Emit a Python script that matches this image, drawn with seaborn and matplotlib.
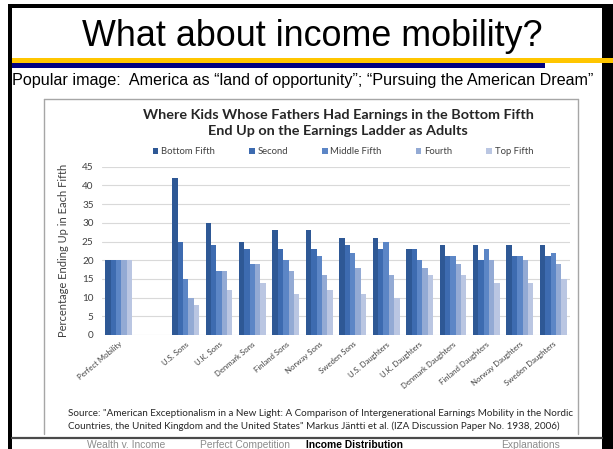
import numpy as np
import pandas as pd
import matplotlib
matplotlib.use("Agg")
import matplotlib.pyplot as plt
from matplotlib.patches import Rectangle
from matplotlib.lines import Line2D
import seaborn as sns

# ---- data -------------------------------------------------------------
groups = ["Perfect Mobility", " ", "U.S. Sons", "U.K. Sons", "Denmark Sons",
          "Finland Sons", "Norway Sons", "Sweden Sons", "U.S. Daughters",
          "U.K. Daughters", "Denmark Daughters", "Finland Daughters",
          "Norway Daughters", "Sweden Daughters"]
fifths = ["Bottom Fifth", "Second", "Middle Fifth", "Fourth", "Top Fifth"]

bottom_fifth = [20, np.nan, 42, 30, 25, 28, 28, 26, 26, 23, 24, 24, 24, 24]
second_fifth = [20, np.nan, 25, 24, 23, 23, 23, 24, 23, 23, 21, 20, 21, 21]
middle_fifth = [20, np.nan, 15, 17, 19, 20, 21, 22, 25, 20, 21, 23, 21, 22]
fourth_fifth = [20, np.nan, 10, 17, 19, 17, 16, 18, 16, 18, 19, 20, 20, 19]
top_fifth    = [20, np.nan, 8, 12, 14, 11, 12, 11, 10, 16, 16, 14, 14, 15]

y_ticks = [0, 5, 10, 15, 20, 25, 30, 35, 40, 45]

palette = ["#2E5895", "#3D6BB0", "#5C86C6", "#93AAD4", "#BAC6E2"]

series = [bottom_fifth, second_fifth, middle_fifth, fourth_fifth, top_fifth]
df = pd.DataFrame(
    [(g, f, v) for f, vals in zip(fifths, series) for g, v in zip(groups, vals)],
    columns=["group", "fifth", "pct"],
)

# ---- figure -----------------------------------------------------------
W, H = 613, 449
sns.set_theme(style="white")
plt.rcParams["font.family"] = ["Lato", "DejaVu Sans"]
fig = plt.figure(figsize=(W / 100, H / 100), dpi=100)
fig.patch.set_facecolor("white")


def fx(x):
    return x / W


def fy(y):
    return 1 - y / H


def rect(x0, y0, x1, y1, color):
    fig.add_artist(Rectangle((fx(x0), fy(y1)), fx(x1) - fx(x0), fy(y0) - fy(y1),
                             transform=fig.transFigure, color=color, lw=0, zorder=5))


def hline(x0, x1, y, color, lw):
    fig.add_artist(Line2D([fx(x0), fx(x1)], [fy(y), fy(y)], transform=fig.transFigure,
                          color=color, lw=lw, zorder=5))


def vline(x, y0, y1, color, lw):
    fig.add_artist(Line2D([fx(x), fx(x)], [fy(y0), fy(y1)], transform=fig.transFigure,
                          color=color, lw=lw, zorder=5))


# slide frame
rect(8, 4, 613, 8, "black")
rect(8, 4, 12, 449, "black")
rect(602, 4, 613, 449, "black")
rect(12, 58, 613, 63, "#FFC600")
rect(12, 63, 545, 68, "#000080")

slide_font = ["Liberation Sans", "DejaVu Sans"]
fig.text(fx(312), fy(36), "What about income mobility?", ha="center", va="center",
         fontsize=25.8, family=slide_font, color="black")
fig.text(fx(12), fy(80),
         "Popular image:  America as \u201cland of opportunity\u201d; \u201cPursuing the American Dream\u201d",
         ha="left", va="center", fontsize=11.6, family=slide_font, color="black")

# chart frame
vline(44, 99, 434, "#A6A6A6", 1.0)
hline(44, 578, 99, "#A6A6A6", 1.0)
vline(578, 99, 434, "#A6A6A6", 1.0)

# footer navigation
hline(12, 602, 437.5, "#4A4A4A", 1.6)
fig.text(fx(126), fy(439.5), "Wealth v. Income", ha="center", va="top",
         fontsize=7.4, color="#8C8C8C", family=slide_font)
fig.text(fx(245), fy(439.5), "Perfect Competition", ha="center", va="top",
         fontsize=7.4, color="#8C8C8C", family=slide_font)
fig.text(fx(354), fy(439.5), "Income Distribution", ha="center", va="top",
         fontsize=7.4, color="black", fontweight="bold", family=slide_font)
fig.text(fx(531), fy(439.5), "Explanations", ha="center", va="top",
         fontsize=7.4, color="#8C8C8C", family=slide_font)

# ---- bar chart --------------------------------------------------------
ax_left, ax_right, ax_top, ax_bottom = 102, 570, 166.7, 335
ax = fig.add_axes([fx(ax_left), fy(ax_bottom), fx(ax_right) - fx(ax_left),
                   fy(ax_top) - fy(ax_bottom)])

sns.barplot(data=df, x="group", y="pct", hue="fifth", order=groups,
            hue_order=fifths, palette=palette, errorbar=None, width=0.8,
            saturation=1, linewidth=0, ax=ax)

ax.set_ylim(0, 45)
ax.set_xlim(-0.5, len(groups) - 0.5)
ax.set_yticks(y_ticks)
ax.set_yticklabels([str(t) for t in y_ticks], fontsize=7.2, color="#404040")
ax.yaxis.grid(True, color="#D9D9D9", lw=0.8)
ax.set_axisbelow(True)
for s in ax.spines.values():
    s.set_visible(False)
ax.tick_params(axis="both", length=0, pad=6)
ax.set_xlabel("")
ax.set_ylabel("Percentage Ending Up in Each Fifth", fontsize=8, color="#404040",
              labelpad=9)
ax.set_xticks(range(len(groups)))
ax.set_xticklabels(groups, rotation=40, ha="right", rotation_mode="anchor",
                   fontsize=5.6, color="#404040")
ax.tick_params(axis="x", pad=4)

handles, labels = ax.get_legend_handles_labels()
ax.legend(handles, labels, ncol=5, loc="center", frameon=False,
          bbox_to_anchor=(fx(343), fy(152)), bbox_transform=fig.transFigure,
          fontsize=6.8, handlelength=0.6, handleheight=0.6, handletextpad=0.3,
          columnspacing=3.6, labelcolor="#404040")

fig.text(fx(338), fy(115), "Where Kids Whose Fathers Had Earnings in the Bottom Fifth",
         ha="center", va="center", fontsize=10.4, fontweight="bold", color="#262626")
fig.text(fx(338), fy(131), "End Up on the Earnings Ladder as Adults",
         ha="center", va="center", fontsize=10.4, fontweight="bold", color="#262626")

fig.text(fx(68), fy(413),
         "Source: \"American Exceptionalism in a New Light: A Comparison of "
         "Intergenerational Earnings Mobility in the Nordic",
         ha="left", va="center", fontsize=7.1, color="#262626")
fig.text(fx(68), fy(426),
         "Countries, the United Kingdom and the United States\" Markus J\u00e4ntti et al. "
         "(IZA Discussion Paper No. 1938, 2006)",
         ha="left", va="center", fontsize=7.1, color="#262626")

fig.savefig("out.png", dpi=100, facecolor="white")
